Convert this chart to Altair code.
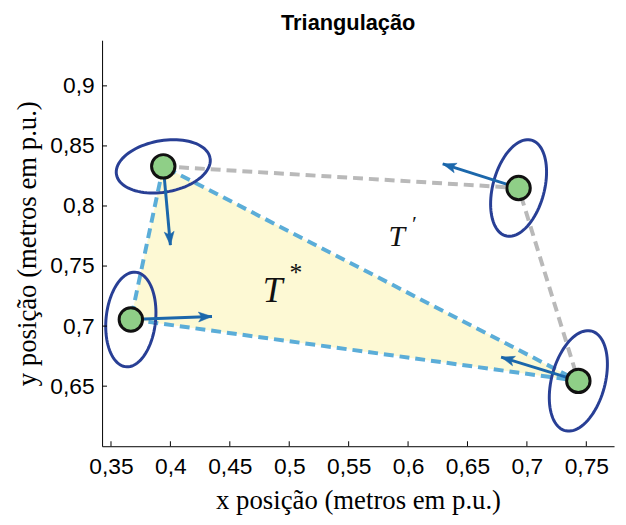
import numpy as np
import pandas as pd
import altair as alt

# ---- data ----
pt_name = ["A", "B", "C", "D"]
pt_x = [0.394, 0.693, 0.3667, 0.7433]
pt_y = [0.833, 0.815, 0.7055, 0.6544]

# triangle T* (closed): A -> C -> D -> A
tri_order = ["A", "C", "D", "A"]
# gray polyline T': A -> B -> D
gray_order = ["A", "B", "D"]

# arrow tips (start at each point)
arrow_from = ["A", "C", "B", "D"]
arrow_tip_x = [0.400, 0.435, 0.6292, 0.6783]
arrow_tip_y = [0.7674, 0.708, 0.835, 0.6742]

# uncertainty ellipses: semi-axes in pixels and rotation (deg)
ell_center = ["A", "C", "B", "D"]
ell_a = [48, 25, 26, 27]
ell_b = [26, 48, 50, 52]
ell_rot = [10, -6, -15, -15]

x_ticks = [0.35, 0.4, 0.45, 0.5, 0.55, 0.6, 0.65, 0.7, 0.75]
y_ticks = [0.65, 0.7, 0.75, 0.8, 0.85, 0.9]

W, H = 517, 410
x_dom = [0.3425, 0.3425 + W / 1200]
y_dom = [0.6, 0.938]
sx = W / (x_dom[1] - x_dom[0])
sy = H / (y_dom[1] - y_dom[0])

P = {n: (x, y) for n, x, y in zip(pt_name, pt_x, pt_y)}

pts = pd.DataFrame({"name": pt_name, "x": pt_x, "y": pt_y})
tri = pd.DataFrame({"i": range(len(tri_order)),
                    "x": [P[n][0] for n in tri_order],
                    "y": [P[n][1] for n in tri_order]})
gray = pd.DataFrame({"i": range(len(gray_order)),
                     "x": [P[n][0] for n in gray_order],
                     "y": [P[n][1] for n in gray_order]})

arr = pd.DataFrame({
    "x": [P[n][0] for n in arrow_from],
    "y": [P[n][1] for n in arrow_from],
    "x2": arrow_tip_x,
    "y2": arrow_tip_y,
})
arr["ang"] = [
    float(np.degrees(np.arctan2((tx - fx) * sx, (ty - fy) * sy)) % 360)
    for fx, fy, tx, ty in zip(arr["x"], arr["y"], arr["x2"], arr["y2"])
]

rows = []
phi = np.linspace(0, 2 * np.pi, 91)
for k, (n, a, b, r) in enumerate(zip(ell_center, ell_a, ell_b, ell_rot)):
    cx, cy = P[n]
    rr = np.radians(r)
    px = a * np.cos(phi) * np.cos(rr) - b * np.sin(phi) * np.sin(rr)
    py = a * np.cos(phi) * np.sin(rr) + b * np.sin(phi) * np.cos(rr)
    for j in range(len(phi)):
        rows.append({"e": k, "j": j, "x": cx + px[j] / sx, "y": cy + py[j] / sy})
ell = pd.DataFrame(rows)

xs = alt.Scale(domain=x_dom, nice=False, zero=False)
ys = alt.Scale(domain=y_dom, nice=False, zero=False)

lab_expr = "replace(format(datum.value, '.2~f'), '.', ',')"
X = alt.X("x:Q", scale=xs, axis=alt.Axis(
    values=x_ticks, labelExpr=lab_expr, ticks=False, grid=False,
    title="x posição (metros em p.u.)", labelFont="Liberation Sans",
    labelFontSize=23, labelColor="black", labelPadding=10,
    titleFont="Liberation Serif", titleFontSize=27, titleFontWeight="normal",
    titleColor="black", titlePadding=9, domainColor="black", labelFlush=False))
Y = alt.Y("y:Q", scale=ys, axis=alt.Axis(
    values=y_ticks, labelExpr=lab_expr, ticks=False, grid=False,
    title="y posição (metros em p.u.)", labelFont="Liberation Sans",
    labelFontSize=23, labelColor="black", labelPadding=8,
    titleFont="Liberation Serif", titleFontSize=27, titleFontWeight="normal",
    titleColor="black", titlePadding=8, domainColor="black", labelFlush=False))

triangle = alt.Chart(tri).mark_line(
    fill="#fdf9d4", stroke="#5badd8", strokeWidth=4, strokeDash=[10, 6]
).encode(x=X, y=Y, order="i:Q")

gray_line = alt.Chart(gray).mark_line(
    stroke="#b9b9b9", strokeWidth=4, strokeDash=[10, 6]
).encode(x="x:Q", y="y:Q", order="i:Q")

ellipses = alt.Chart(ell).mark_line(
    stroke="#283f95", strokeWidth=3
).encode(x="x:Q", y="y:Q", detail="e:N", order="j:Q")

shafts = alt.Chart(arr).mark_rule(
    stroke="#1b67ab", strokeWidth=3
).encode(x="x:Q", y="y:Q", x2="x2:Q", y2="y2:Q")

heads = alt.Chart(arr).mark_point(
    shape="M0,0 L0.55,1.5 L0,1.15 L-0.55,1.5 Z",
    filled=True, fill="#1b67ab", stroke="#1b67ab", strokeWidth=0.5,
    size=330, opacity=1
).encode(x="x2:Q", y="y2:Q", angle=alt.Angle("ang:Q", scale=None))

points = alt.Chart(pts).mark_point(
    shape="circle", filled=True, fill="#8fcf87", stroke="#111111",
    strokeWidth=3, size=560, opacity=1
).encode(x="x:Q", y="y:Q")

lbl = pd.DataFrame({"t": ["T", "*", "T", "\u2032"],
                    "x": [0.486, 0.5045, 0.5905, 0.6042],
                    "y": [0.7295, 0.7445, 0.774, 0.785],
                    "s": [36, 26, 30, 22]})
labels = alt.Chart(lbl).mark_text(
    font="Liberation Serif", fontStyle="italic", color="#111111",
    align="center", baseline="middle"
).encode(x="x:Q", y="y:Q", text="t:N", size=alt.Size("s:Q", scale=None))

xt = pd.DataFrame({"x": x_ticks})
yt = pd.DataFrame({"y": y_ticks})
xtick = alt.Chart(xt).mark_rule(stroke="black", strokeWidth=1).encode(
    x="x:Q", y=alt.value(H), y2=alt.value(H - 5))
ytick = alt.Chart(yt).mark_rule(stroke="black", strokeWidth=1).encode(
    y="y:Q", x=alt.value(0), x2=alt.value(5))

chart = alt.layer(
    triangle, gray_line, ellipses, shafts, heads, points, labels, xtick, ytick
).properties(
    width=W, height=H,
    title=alt.TitleParams("Triangulação", font="Liberation Sans", fontSize=22,
                          fontWeight="bold", color="black", anchor="middle",
                          dx=-10, offset=5),
    autosize=alt.AutoSizeParams(type="none"),
    padding={"left": 95, "top": 30, "right": 4, "bottom": 76},
).configure_view(stroke=None).configure_axis(domainWidth=1)

chart.save("out.html", embed_options={"renderer": "svg", "actions": False})
